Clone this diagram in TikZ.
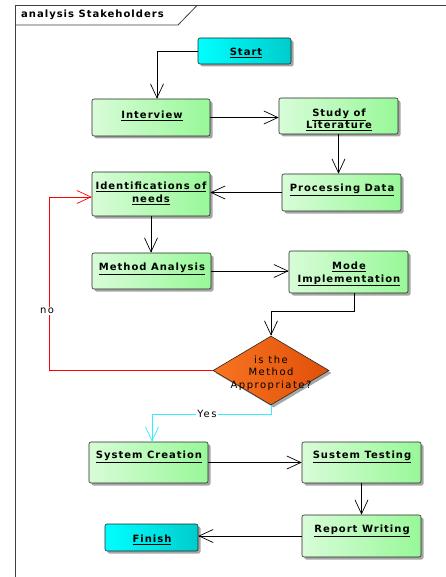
\documentclass[tikz,border=0pt]{standalone}
\usepackage{fontspec}
\setmainfont{DejaVu Sans}
\newfontfamily\spaced[LetterSpace=10]{DejaVu Sans}
\newfontfamily\spacedreg[LetterSpace=15]{DejaVu Sans}
\usetikzlibrary{arrows.meta,shapes.geometric,shadows,calc}
\definecolor{gA}{HTML}{D8FCD8}
\definecolor{gB}{HTML}{98F898}
\definecolor{cA}{HTML}{00FFFF}
\definecolor{cB}{HTML}{00CCCC}
\definecolor{oA}{HTML}{F87422}
\definecolor{oB}{HTML}{E05008}
\definecolor{yescol}{HTML}{33EEFF}
\newcommand\ul[1]{\underline{#1}}
\tikzset{
  boxshape/.style={draw=black!85, line width=0.6pt, rounded corners=2pt, inner sep=0pt,
    drop shadow={shadow xshift=2.5pt, shadow yshift=-2.5pt, fill=black!35, opacity=1}},
  greenbox/.style={boxshape, left color=gA, right color=gB},
  cyanbox/.style={boxshape, left color=cA, right color=cB},
  lbl/.style={font=\spaced\bfseries\fontsize{10}{12.5}\selectfont, align=center, inner sep=0pt},
  edge/.style={draw=black, line width=0.7pt, -{Straight Barb[length=14pt,width=13pt,line width=0.7pt]}},
  redge/.style={edge, draw=red},
  yedge/.style={edge, draw=yescol},
  tag/.style={font=\spacedreg\fontsize{10}{12}\selectfont, fill=white, inner sep=1pt}
}
\begin{document}
\begin{tikzpicture}[x=1pt,y=-1pt]
\useasboundingbox (0,0) rectangle (446,577);
% frame
\draw[black!75, line width=0.8pt] (15,580) -- (15,5.5) -- (450,5.5);
\draw[black!75, line width=0.8pt] (15,25) -- (178,25) -- (197,5.5);
\node[anchor=west, font=\spaced\bfseries\fontsize{10}{12}\selectfont, inner sep=0pt] (title) at (21,15) {analysis Stakeholders};
% boxes
\node[cyanbox, minimum width=93pt, minimum height=26pt] (start) at (244.5,51) {};
\node[greenbox, minimum width=118pt, minimum height=37pt] (interview) at (151,117.5) {};
\node[greenbox, minimum width=119pt, minimum height=36pt] (study) at (338.5,116) {};
\node[greenbox, minimum width=119pt, minimum height=37pt] (proc) at (341.5,192.5) {};
\node[greenbox, minimum width=118pt, minimum height=44pt] (ident) at (151,194) {};
\node[greenbox, minimum width=119pt, minimum height=36pt] (method) at (151.5,271) {};
\node[greenbox, minimum width=119pt, minimum height=42pt] (mode) at (348.5,272) {};
\node[diamond, draw=black!85, line width=0.6pt, left color=oA, right color=oB, minimum width=116pt, minimum height=69pt, inner sep=0pt,
  drop shadow={shadow xshift=2.5pt, shadow yshift=-2.5pt, fill=black!35, opacity=1}] (dia) at (271,370.5) {};
\node[greenbox, minimum width=119pt, minimum height=41pt] (syscr) at (148.5,462.5) {};
\node[greenbox, minimum width=119pt, minimum height=41pt] (sustem) at (361.5,462.5) {};
\node[greenbox, minimum width=119pt, minimum height=42pt] (report) at (361.5,536) {};
\node[cyanbox, minimum width=93pt, minimum height=27pt] (finish) at (151.5,537.5) {};
% labels
\node[lbl] (start-l) at (246,53) {\ul{Start}};
\node[lbl] (interview-l) at (152,116) {\ul{Interview}};
\node[lbl] (study-l) at (339,120) {\ul{Study of}\\\ul{Literature}};
\node[lbl] (proc-l) at (342,190) {\ul{Processing Data}};
\node[lbl] (ident-l) at (151,193.5) {\ul{Identifications of}\\\ul{needs}};
\node[lbl] (method-l) at (152,269) {\ul{Method Analysis}};
\node[lbl] (mode-l) at (349,274) {\ul{Mode}\\\ul{Implementation}};
\node[font=\spacedreg\fontsize{10}{12.7}\selectfont, align=center, inner sep=0pt] (dia-l) at (271,373) {is the\\Method\\Appropriate?};
\node[lbl] (syscr-l) at (149,457) {\ul{System Creation}};
\node[lbl] (sustem-l) at (362,457) {\ul{Sustem Testing}};
\node[lbl] (report-l) at (362,531) {\ul{Report Writing}};
\node[lbl] (finish-l) at (152,540) {\ul{Finish}};
% connectors
\draw[edge] (start.west) -| ([xshift=6pt]interview.north);
\draw[edge] (interview.east) -- (interview.east -| study.west);
\draw[edge] (study.south) -- (study.south |- proc.north);
\draw[edge] (proc.west) -- (proc.west -| ident.east);
\draw[edge] (ident.south) -- (ident.south |- method.north);
\draw[edge] (method.east) -- (method.east -| mode.west);
\coordinate (m1) at (354,311);
\draw[edge] (mode.south -| m1) -- (m1) -| (dia.north);
\coordinate (r1) at (49,370.5);
\coordinate (r2) at (49,197);
\draw[redge] (dia.west) -- (r1) -- (r2) -- (r2 -| ident.west);
\node[tag] (no) at (47,311) {no};
\coordinate (y1) at (271,414);
\coordinate (y2) at (152,414);
\draw[yedge] (dia.south) -- (y1) -- (y2) -- (y2 |- syscr.north);
\node[tag] (yes) at (207,414) {Yes};
\draw[edge] (syscr.east) -- (syscr.east -| sustem.west);
\draw[edge] (sustem.south) -- (sustem.south |- report.north);
\draw[edge] (report.west) -- (report.west -| finish.east);
\end{tikzpicture}
\end{document}
